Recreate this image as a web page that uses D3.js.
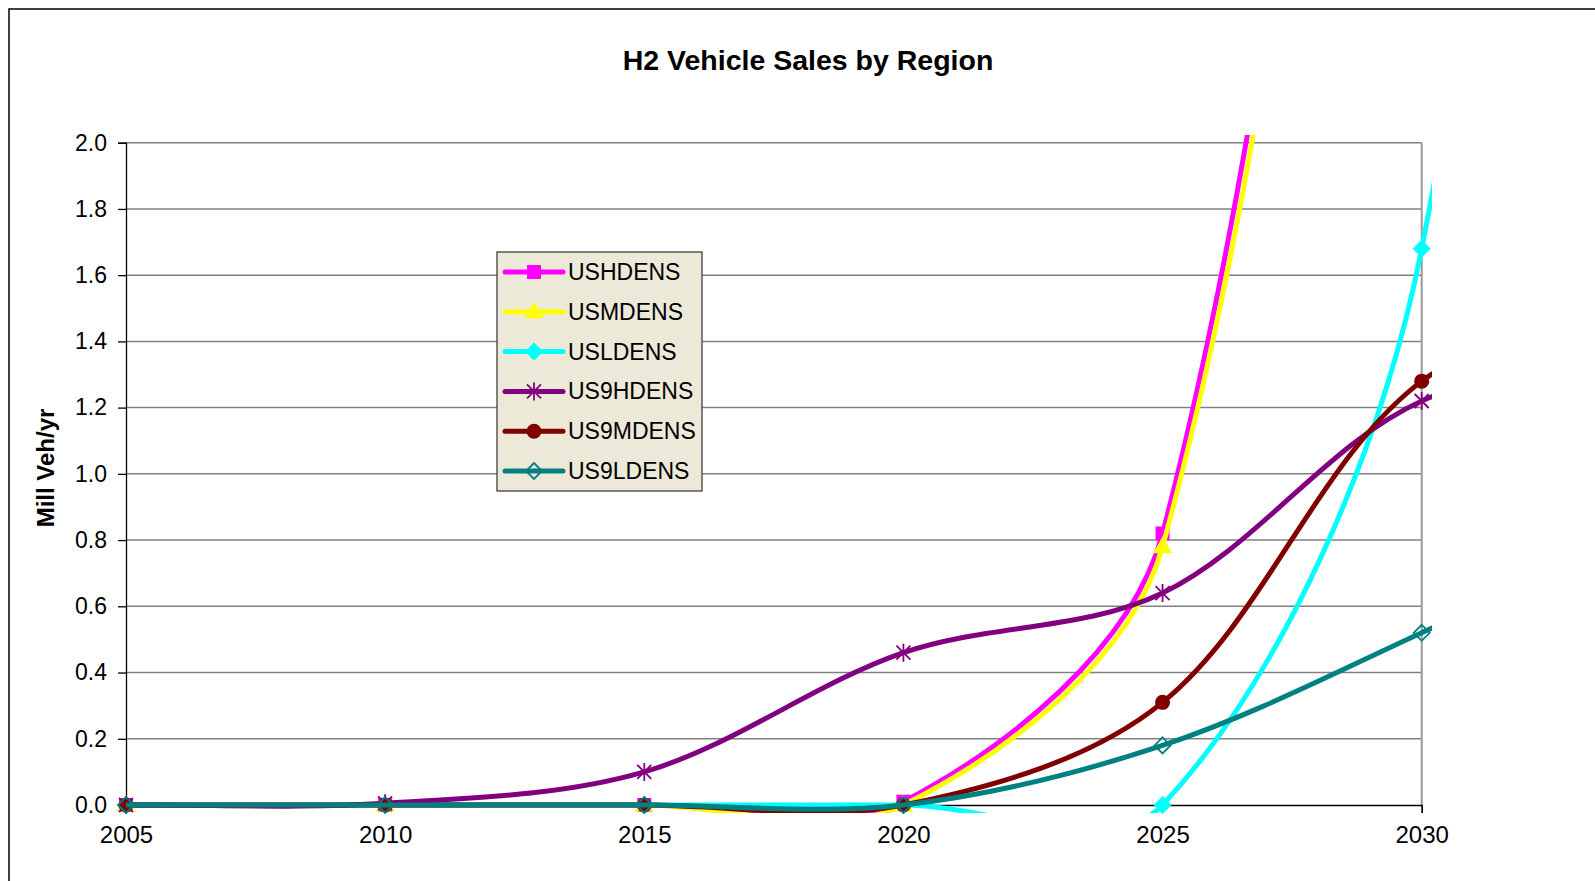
<!DOCTYPE html>
<html>
<head>
<meta charset="utf-8">
<script src="https://cdn.jsdelivr.net/npm/d3@7"></script>
<style>
  body { margin: 0; background: #fff; }
  text { font-family: "Liberation Sans", Arial, sans-serif; }
</style>
</head>
<body>
<svg id="chart" width="1595" height="881"></svg>
<script>
// data, five year steps (2035 only shapes the line past 2030)
const years = [2005, 2010, 2015, 2020, 2025, 2030, 2035];
const usHDens  = [0, 0, 0, 0.01, 0.82, 6.0, 11.0];
const usMDens  = [0, 0, 0, 0.0, 0.78, 5.7, 10.5];
const usLDens  = [0, 0, 0, 0.0, 0.0, 1.68, 8.0];
const us9HDens = [0, 0.005, 0.10, 0.46, 0.64, 1.22, 1.35];
const us9MDens = [0, 0, 0, 0.0, 0.31, 1.28, 1.5];
const us9LDens = [0, 0, 0, 0.0, 0.18, 0.52, 0.9];

const seriesNames = ["USHDENS", "USMDENS", "USLDENS", "US9HDENS", "US9MDENS", "US9LDENS"];
const seriesValues = [usHDens, usMDens, usLDens, us9HDens, us9MDens, us9LDens];
const seriesColors = ["#FF00FF", "#FFFF00", "#00FFFF", "#800080", "#800000", "#008080"];
const seriesMarkers = ["square", "triangle", "diamond", "star", "circle", "hollowDiamond"];

const xTicks = [2005, 2010, 2015, 2020, 2025, 2030];
const yTicks = [0, 0.2, 0.4, 0.6, 0.8, 1.0, 1.2, 1.4, 1.6, 1.8, 2.0];

const svg = d3.select("#chart");

const plot = {left: 126, top: 142.7, right: 1421.7, bottom: 805};
const x = d3.scaleLinear().domain([2005, 2030]).range([plot.left, plot.right]);
const y = d3.scaleLinear().domain([0, 2]).range([plot.bottom, plot.top]);

// outer chart frame (runs off the page on the right and bottom like the original)
svg.append("rect")
    .attr("x", 9).attr("y", 9)
    .attr("width", 1700).attr("height", 1000)
    .attr("fill", "#fff")
    .attr("stroke", "#000")
    .attr("stroke-width", 1.5);

svg.append("text")
    .attr("x", 808).attr("y", 70)
    .attr("text-anchor", "middle")
    .attr("font-size", 28.5)
    .attr("font-weight", "bold")
    .text("H2 Vehicle Sales by Region");

// gridlines
svg.append("g")
    .selectAll("line")
    .data(yTicks.filter(d => d > 0))
    .enter().append("line")
      .attr("x1", plot.left).attr("x2", plot.right)
      .attr("y1", d => y(d)).attr("y2", d => y(d))
      .attr("stroke", "#808080")
      .attr("stroke-width", 1.5);

// right border of plot area
svg.append("line")
    .attr("x1", plot.right).attr("x2", plot.right)
    .attr("y1", plot.top).attr("y2", plot.bottom)
    .attr("stroke", "#999")
    .attr("stroke-width", 2);

const yAxis = svg.append("g")
    .attr("transform", "translate(" + plot.left + ",0)")
    .call(d3.axisLeft(y).tickValues(yTicks).tickFormat(d3.format(".1f")).tickSize(8).tickPadding(11));
yAxis.select(".domain").attr("stroke", "#000").attr("stroke-width", 1.3);
yAxis.selectAll(".tick line").attr("stroke", "#000").attr("stroke-width", 1.3);
yAxis.selectAll("text").attr("font-size", 23).attr("fill", "#000")
    .style("font-family", "'Liberation Sans', Arial, sans-serif");

const xAxis = svg.append("g")
    .attr("transform", "translate(0," + plot.bottom + ")")
    .call(d3.axisBottom(x).tickValues(xTicks).tickFormat(d3.format("d")).tickSize(8).tickPadding(13));
xAxis.select(".domain").attr("stroke", "#000").attr("stroke-width", 1.3);
xAxis.selectAll(".tick line").attr("stroke", "#000").attr("stroke-width", 1.3);
xAxis.selectAll("text").attr("font-size", 24).attr("fill", "#000")
    .style("font-family", "'Liberation Sans', Arial, sans-serif");

svg.append("text")
    .attr("transform", "translate(54,468) rotate(-90)")
    .attr("text-anchor", "middle")
    .attr("font-size", 24)
    .attr("font-weight", "bold")
    .text("Mill Veh/yr");

// Excel style smoothing: bezier control points along (next - prev), scaled by segment length
function curveExcel(context) {
  let pts;
  const dist = (a, b) => Math.hypot(b[0] - a[0], b[1] - a[1]);
  return {
    areaStart() {}, areaEnd() {},
    lineStart() { pts = []; },
    point(px, py) { pts.push([+px, +py]); },
    lineEnd() {
      if (!pts.length) return;
      context.moveTo(pts[0][0], pts[0][1]);
      for (let i = 0; i < pts.length - 1; i++) {
        const p0 = pts[i - 1] || pts[i], p1 = pts[i], p2 = pts[i + 1], p3 = pts[i + 2] || pts[i + 1];
        const d01 = dist(p0, p1), d12 = dist(p1, p2), d23 = dist(p2, p3);
        const f1 = d01 + d12 ? d12 / (d01 + d12) / 3 : 0;
        const f2 = d12 + d23 ? d12 / (d12 + d23) / 3 : 0;
        context.bezierCurveTo(
          p1[0] + (p2[0] - p0[0]) * f1, p1[1] + (p2[1] - p0[1]) * f1,
          p2[0] - (p3[0] - p1[0]) * f2, p2[1] - (p3[1] - p1[1]) * f2,
          p2[0], p2[1]);
      }
    }
  };
}

svg.append("clipPath").attr("id", "plotclip")
  .append("rect")
    .attr("x", plot.left).attr("y", 135)
    .attr("width", 1432 - plot.left).attr("height", 813 - 135);

const line = d3.line()
    .x((d, i) => x(years[i]))
    .y(d => y(d))
    .curve(curveExcel);

function drawMarker(g, kind, color, cx, cy) {
  if (kind == "square") {
    g.append("rect").attr("x", cx - 7).attr("y", cy - 7).attr("width", 14).attr("height", 14).attr("fill", color);
  } else if (kind == "triangle") {
    g.append("path").attr("d", d3.symbol(d3.symbolTriangle, 160)()).attr("transform", "translate(" + cx + "," + (cy + 1) + ")").attr("fill", color);
  } else if (kind == "diamond") {
    g.append("path").attr("d", "M0,-9L9,0L0,9L-9,0Z").attr("transform", "translate(" + cx + "," + cy + ")").attr("fill", color);
  } else if (kind == "star") {
    g.append("path").attr("d", "M0,-9V9M-7,-7L7,7M-7,7L7,-7").attr("transform", "translate(" + cx + "," + cy + ")")
      .attr("stroke", color).attr("stroke-width", 1.8).attr("fill", "none");
  } else if (kind == "circle") {
    g.append("circle").attr("cx", cx).attr("cy", cy).attr("r", 7.5).attr("fill", color);
  } else if (kind == "hollowDiamond") {
    g.append("path").attr("d", "M0,-8L8,0L0,8L-8,0Z").attr("transform", "translate(" + cx + "," + cy + ")")
      .attr("fill", "none").attr("stroke", color).attr("stroke-width", 1.8);
  }
}

seriesValues.forEach(function(vals, s) {
  svg.append("path")
      .datum(vals)
      .attr("d", line)
      .attr("clip-path", "url(#plotclip)")
      .attr("fill", "none")
      .attr("stroke", seriesColors[s])
      .attr("stroke-width", 5)
      .attr("stroke-linejoin", "round");
  const mg = svg.append("g");
  vals.forEach(function(v, i) {
    if (years[i] > 2030 || v > 2 || v < 0) return;
    drawMarker(mg, seriesMarkers[s], seriesColors[s], x(years[i]), y(v));
  });
});

// legend
const legend = svg.append("g").attr("transform", "translate(497,252)");
legend.append("rect")
    .attr("width", 205).attr("height", 239)
    .attr("fill", "#ECE9D8")
    .attr("stroke", "#404040")
    .attr("stroke-width", 1.3);
seriesNames.forEach(function(name, s) {
  const ly = 20 + s * 39.8;
  legend.append("line")
      .attr("x1", 8).attr("x2", 66)
      .attr("y1", ly).attr("y2", ly)
      .attr("stroke", seriesColors[s])
      .attr("stroke-width", 5)
      .attr("stroke-linecap", "round");
  drawMarker(legend, seriesMarkers[s], seriesColors[s], 37, ly);
  legend.append("text")
      .attr("x", 71).attr("y", ly + 8)
      .attr("font-size", 23)
      .text(name);
});
</script>
</body>
</html>
